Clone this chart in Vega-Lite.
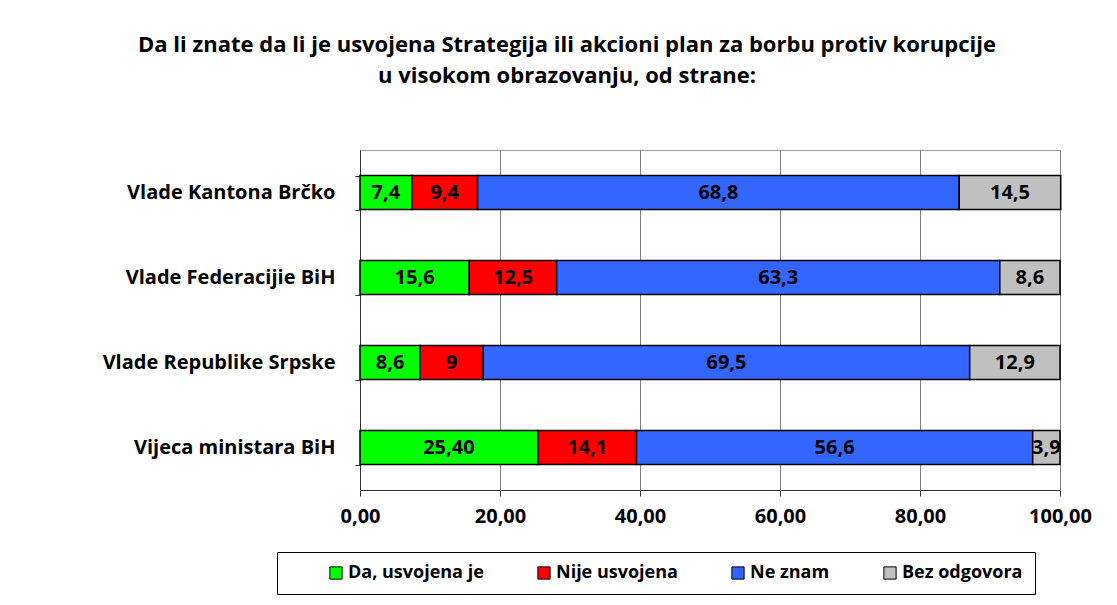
{
  "$schema": "https://vega.github.io/schema/vega-lite/v6.json",
  "width": 700,
  "height": 340,
  "autosize": {"type": "none"},
  "padding": {"left": 360, "top": 150, "right": 57, "bottom": 115},
  "background": "white",
  "config": {
    "locale": {"number": {"decimal": ",", "thousands": ".", "grouping": [3], "currency": ["", " €"]}},
    "view": {"stroke": "#999999"},
    "font": "Open Sans"
  },
  "title": {
    "text": ["Da li znate da li je usvojena Strategija ili akcioni plan za borbu protiv korupcije", "u visokom obrazovanju, od strane:"],
    "font": "Open Sans",
    "fontSize": 22,
    "fontWeight": "bold",
    "color": "black",
    "anchor": "middle",
    "frame": "group",
    "dx": -143,
    "offset": 52,
    "lineHeight": 31
  },
  "data": {
    "values": [
      {"cat": "Vlade Kantona Brčko", "resp": "Da, usvojena je", "order": 1, "value": 7.4, "label": "7,4"},
      {"cat": "Vlade Kantona Brčko", "resp": "Nije usvojena", "order": 2, "value": 9.4, "label": "9,4"},
      {"cat": "Vlade Kantona Brčko", "resp": "Ne znam", "order": 3, "value": 68.8, "label": "68,8"},
      {"cat": "Vlade Kantona Brčko", "resp": "Bez odgovora", "order": 4, "value": 14.5, "label": "14,5"},
      {"cat": "Vlade Federacijie BiH", "resp": "Da, usvojena je", "order": 1, "value": 15.6, "label": "15,6"},
      {"cat": "Vlade Federacijie BiH", "resp": "Nije usvojena", "order": 2, "value": 12.5, "label": "12,5"},
      {"cat": "Vlade Federacijie BiH", "resp": "Ne znam", "order": 3, "value": 63.3, "label": "63,3"},
      {"cat": "Vlade Federacijie BiH", "resp": "Bez odgovora", "order": 4, "value": 8.6, "label": "8,6"},
      {"cat": "Vlade Republike Srpske", "resp": "Da, usvojena je", "order": 1, "value": 8.6, "label": "8,6"},
      {"cat": "Vlade Republike Srpske", "resp": "Nije usvojena", "order": 2, "value": 9, "label": "9"},
      {"cat": "Vlade Republike Srpske", "resp": "Ne znam", "order": 3, "value": 69.5, "label": "69,5"},
      {"cat": "Vlade Republike Srpske", "resp": "Bez odgovora", "order": 4, "value": 12.9, "label": "12,9"},
      {"cat": "Vijeca ministara BiH", "resp": "Da, usvojena je", "order": 1, "value": 25.4, "label": "25,40"},
      {"cat": "Vijeca ministara BiH", "resp": "Nije usvojena", "order": 2, "value": 14.1, "label": "14,1"},
      {"cat": "Vijeca ministara BiH", "resp": "Ne znam", "order": 3, "value": 56.6, "label": "56,6"},
      {"cat": "Vijeca ministara BiH", "resp": "Bez odgovora", "order": 4, "value": 3.9, "label": "3,9"}
    ]
  },
  "transform": [
    {"stack": "value", "groupby": ["cat"], "sort": [{"field": "order", "order": "ascending"}], "as": ["v0", "v1"]}
  ],
  "encoding": {
    "y": {
      "field": "cat",
      "type": "nominal",
      "sort": ["Vlade Kantona Brčko", "Vlade Federacijie BiH", "Vlade Republike Srpske", "Vijeca ministara BiH"],
      "scale": {"paddingInner": 0.6, "paddingOuter": 0.3},
      "axis": {
        "title": null,
        "tickBand": "extent",
        "tickSize": 5,
        "tickColor": "#333333",
        "domainColor": "#333333",
        "labelFont": "Open Sans",
        "labelFontSize": 20,
        "labelFontWeight": "bold",
        "labelColor": "black",
        "labelPadding": 20,
        "labelLimit": 400
      }
    }
  },
  "layer": [
    {
      "mark": {"type": "bar", "stroke": "black", "strokeWidth": 1.5},
      "encoding": {
        "x": {
          "field": "v0",
          "type": "quantitative",
          "scale": {"domain": [0, 100]},
          "axis": {
            "title": null,
            "values": [0, 20, 40, 60, 80, 100],
            "format": ".2f",
            "grid": true,
            "gridColor": "#808080",
            "tickSize": 6,
            "tickColor": "#333333",
            "domainColor": "#333333",
            "labelFont": "Open Sans",
            "labelFontSize": 20,
            "labelFontWeight": "bold",
            "labelColor": "black",
            "labelPadding": 10,
            "labelFlush": false
          }
        },
        "x2": {"field": "v1"},
        "color": {
          "field": "resp",
          "type": "nominal",
          "scale": {
            "domain": ["Da, usvojena je", "Nije usvojena", "Ne znam", "Bez odgovora"],
            "range": ["#00FF00", "#FF0000", "#3366FF", "#C0C0C0"]
          },
          "legend": {
            "orient": "none",
            "legendX": -83,
            "legendY": 402,
            "direction": "horizontal",
            "title": " ",
            "titleOrient": "left",
            "titlePadding": 38,
            "titleFontSize": 17,
            "padding": 12,
            "strokeColor": "black",
            "fillColor": "white",
            "symbolType": "square",
            "symbolSize": 150,
            "symbolStrokeColor": "black",
            "symbolStrokeWidth": 1,
            "symbolOpacity": 1,
            "labelFont": "Open Sans",
            "labelFontSize": 18,
            "labelFontWeight": "bold",
            "labelColor": "black",
            "labelOffset": 3,
            "columnPadding": 51
          }
        }
      }
    },
    {
      "transform": [{"fold": ["v0", "v1"], "as": ["edge", "pos"]}],
      "mark": {"type": "text", "font": "Open Sans", "fontWeight": "bold", "fontSize": 20, "color": "black"},
      "encoding": {
        "x": {"field": "pos", "type": "quantitative", "aggregate": "mean"},
        "detail": {"field": "resp"},
        "text": {"field": "label"}
      }
    }
  ]
}
